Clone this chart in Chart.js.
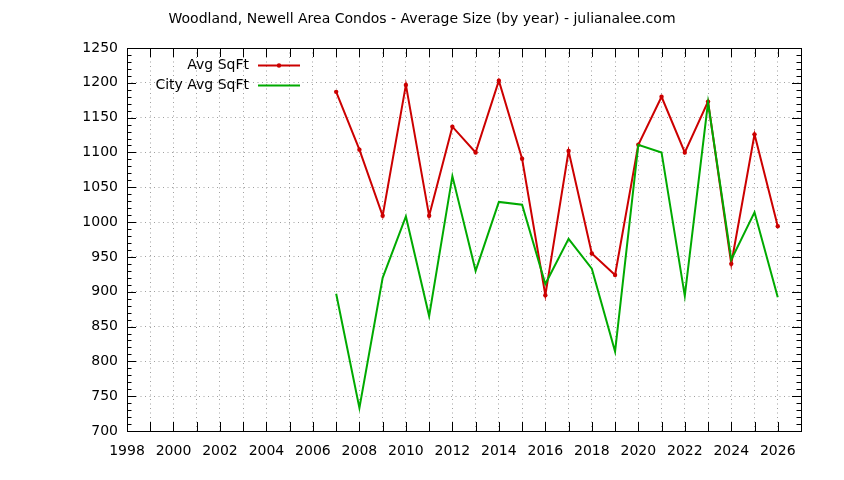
<!DOCTYPE html>
<html>
<head>
<meta charset="utf-8">
<script src="https://cdn.jsdelivr.net/npm/chart.js@4.4.0/dist/chart.umd.min.js"></script>
<style>
html,body{margin:0;padding:0;background:#fff;}
#wrap{width:844px;height:480px;position:relative;}
</style>
</head>
<body>
<div id="wrap"><canvas id="c" width="844" height="480"></canvas></div>
<script>
const titleText = "Woodland, Newell Area Condos - Average Size (by year) - julianalee.com";
const years = [2007,2008,2009,2010,2011,2012,2013,2014,2015,2016,2017,2018,2019,2020,2021,2022,2023,2024,2025,2026];
const avgSqFt = [1187,1104,1009,1197,1009,1137,1100,1203,1091,895,1102,955,924,1111,1180,1100,1173,940,1126,994];
const cityAvgSqFt = [897,733,920,1008,865,1066,930,1029,1025,911,976,933,814,1111,1100,894,1172,946,1014,892];
const seriesNames = ["Avg SqFt","City Avg SqFt"];
const xMin = 1998, xMax = 2027, yMin = 700, yMax = 1250;

const FONT = "DejaVu Sans";
const RED = "#cc0000", GREEN = "#00aa00";

const framePlugin = {
  id: 'frame',
  afterDraw(chart) {
    const ctx = chart.ctx, a = chart.chartArea;
    const xs = chart.scales.x, ys = chart.scales.y;
    ctx.save();
    ctx.strokeStyle = '#000';
    ctx.lineWidth = 1;
    ctx.beginPath();
    for (let v = xMin + 1; v < xMax; v++) {
      const px = Math.round(xs.getPixelForValue(v)) + 0.5;
      ctx.moveTo(px, a.bottom); ctx.lineTo(px, a.bottom - 9);
      ctx.moveTo(px, a.top); ctx.lineTo(px, a.top + 9);
    }
    for (let v = yMin + 10; v < yMax; v += 10) {
      const py = Math.round(ys.getPixelForValue(v)) + 0.5;
      const len = (v % 50 === 0) ? 9 : 4.5;
      ctx.moveTo(a.left, py); ctx.lineTo(a.left + len, py);
      ctx.moveTo(a.right, py); ctx.lineTo(a.right - len, py);
    }
    ctx.stroke();
    ctx.strokeRect(Math.round(a.left) + 0.5, Math.round(a.top) + 0.5, Math.round(a.right - a.left), Math.round(a.bottom - a.top));
    ctx.fillStyle = '#000';
    ctx.font = '14px "' + FONT + '"';
    ctx.textAlign = 'center';
    ctx.textBaseline = 'middle';
    ctx.fillText(titleText, 422, 19);
    ctx.textAlign = 'right';
    const rows = [[seriesNames[0], RED, true, 65.5], [seriesNames[1], GREEN, false, 85.5]];
    rows.forEach(r => {
      ctx.fillStyle = '#000';
      ctx.fillText(r[0], 249, r[3]);
      ctx.strokeStyle = r[1];
      ctx.lineWidth = 2;
      ctx.beginPath();
      ctx.moveTo(258, r[3]); ctx.lineTo(300, r[3]);
      ctx.stroke();
      if (r[2]) {
        ctx.fillStyle = r[1];
        ctx.beginPath();
        ctx.arc(279, r[3], 2.2, 0, Math.PI * 2);
        ctx.fill();
      }
    });
    ctx.restore();
  }
};

new Chart(document.getElementById('c'), {
  type: 'line',
  data: {
    datasets: [
      {
        label: seriesNames[0],
        data: years.map((y, i) => ({x: y, y: avgSqFt[i]})),
        borderColor: RED,
        backgroundColor: RED,
        borderWidth: 2,
        pointRadius: 2.2,
        pointHoverRadius: 2.2,
        pointBorderWidth: 0,
        tension: 0,
        order: 2
      },
      {
        label: seriesNames[1],
        data: years.map((y, i) => ({x: y, y: cityAvgSqFt[i]})),
        borderColor: GREEN,
        backgroundColor: GREEN,
        borderWidth: 2,
        pointRadius: 0,
        tension: 0,
        order: 1
      }
    ]
  },
  options: {
    responsive: false,
    animation: false,
    events: [],
    layout: {padding: {left: 0, right: 43, top: 48, bottom: 0}},
    plugins: {legend: {display: false}, title: {display: false}, tooltip: {enabled: false}},
    scales: {
      x: {
        type: 'linear',
        min: xMin, max: xMax,
        afterFit(s) { s.height = 49; },
        ticks: {
          stepSize: 1,
          autoSkip: false,
          maxRotation: 0,
          padding: 12,
          color: '#000',
          font: {family: FONT, size: 14},
          callback: (v) => (v % 2 === 0 ? String(v) : '')
        },
        grid: {color: '#a0a0a0', lineWidth: 1, drawTicks: false},
        border: {display: false, dash: [1, 3.5]}
      },
      y: {
        min: yMin, max: yMax,
        afterFit(s) { s.width = 127; },
        ticks: {
          stepSize: 50,
          padding: 9,
          color: '#000',
          font: {family: FONT, size: 14},
          callback: (v) => String(v)
        },
        grid: {color: '#a0a0a0', lineWidth: 1, drawTicks: false},
        border: {display: false, dash: [1, 3.5]}
      }
    }
  },
  plugins: [framePlugin]
});
</script>
</body>
</html>
